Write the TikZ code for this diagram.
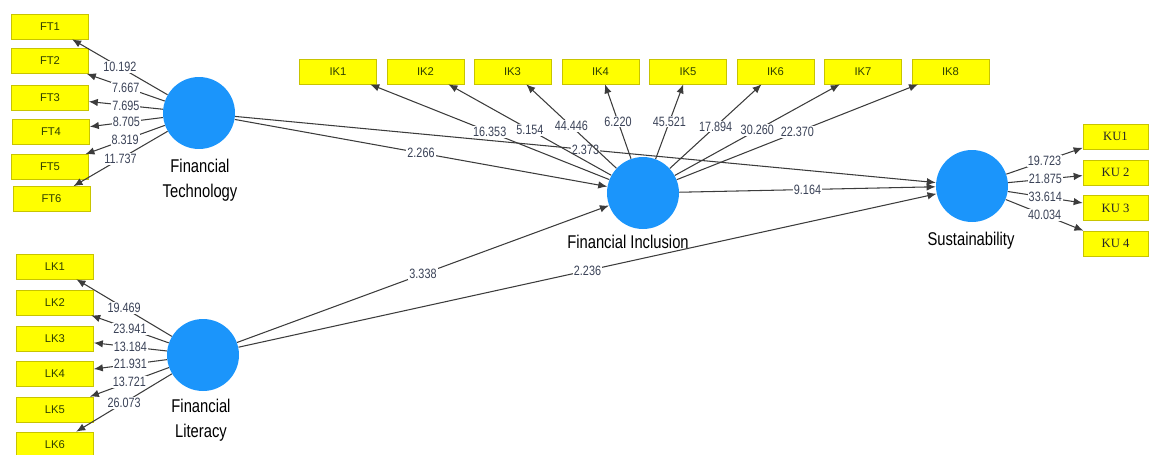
\documentclass[tikz,border=0pt]{standalone}
\usepackage{fontspec}
\setmainfont{Liberation Sans}
\newfontfamily\cndfont[FakeStretch=0.8]{Liberation Sans}
\newfontfamily\kufont{Liberation Serif}
\usepackage{tikz}
\usepackage{xcolor}
\usetikzlibrary{arrows.meta}
\definecolor{boxyellow}{HTML}{FFFF00}
\definecolor{boxedge}{HTML}{C8C400}
\definecolor{itemink}{HTML}{2F4000}
\definecolor{latentblue}{HTML}{1B95FB}
\definecolor{arrowgray}{HTML}{3C3C3C}
\definecolor{numink}{HTML}{3B4358}
\tikzset{
  itembox/.style={draw=boxedge, fill=boxyellow, line width=0.4pt,
                  minimum width=1.54cm, minimum height=0.5cm, inner sep=1pt,
                  font=\fontsize{6.4}{7}\selectfont, text=itemink},
  kubox/.style={itembox, minimum width=1.3cm,
                font=\kufont\fontsize{7.2}{8}\selectfont, text=black!85},
  latent/.style={circle, fill=latentblue, minimum size=1.44cm, inner sep=0pt},
  latname/.style={align=center, inner sep=0pt,
                  font=\cndfont\fontsize{10.5}{14.2}\selectfont, text=black},
  patharr/.style={-{Latex[length=1.8mm,width=1.5mm]}, line width=0.6pt, color=arrowgray},
  pathnum/.style={midway, fill=white, inner sep=0.6pt,
                  font=\cndfont\fontsize{7.7}{8}\selectfont, text=numink}
}
\begin{document}
\begin{tikzpicture}[x=0.02cm,y=-0.02cm]
  \useasboundingbox (0,0) rectangle (1150,454);

  % Latent variables
  \node[latent] (ft) at (199,113) {};
  \node[latent] (lk) at (203,355) {};
  \node[latent] (fi) at (643,193) {};
  \node[latent] (su) at (972,186) {};
  \node[latname] (ftname) at (200,180) {Financial\\Technology};
  \node[latname] (lkname) at (201,420) {Financial\\Literacy};
  \node[latname,anchor=base] (finame) at (628,248) {Financial Inclusion};
  \node[latname,anchor=base] (suname) at (971,245) {Sustainability};

  % Financial Technology indicators
  \node[itembox] (ft1) at (50,26.5) {FT1};
  \node[itembox] (ft2) at (50,61) {FT2};
  \node[itembox] (ft3) at (50,97.5) {FT3};
  \node[itembox] (ft4) at (51,131.5) {FT4};
  \node[itembox] (ft5) at (50,167) {FT5};
  \node[itembox] (ft6) at (51.5,199) {FT6};

  % Financial Literacy indicators
  \node[itembox] (lk1) at (55,266.5) {LK1};
  \node[itembox] (lk2) at (55,302.5) {LK2};
  \node[itembox] (lk3) at (55,338.5) {LK3};
  \node[itembox] (lk4) at (55,374) {LK4};
  \node[itembox] (lk5) at (55,409.5) {LK5};
  \node[itembox] (lk6) at (55,444.5) {LK6};

  % Financial Inclusion indicators
  \node[itembox] (ik1) at (338,71.5) {IK1};
  \node[itembox] (ik2) at (425.5,71.5) {IK2};
  \node[itembox] (ik3) at (512.5,71.5) {IK3};
  \node[itembox] (ik4) at (600.5,71.5) {IK4};
  \node[itembox] (ik5) at (688,71.5) {IK5};
  \node[itembox] (ik6) at (775.5,71.5) {IK6};
  \node[itembox] (ik7) at (863,71.5) {IK7};
  \node[itembox] (ik8) at (950.5,71.5) {IK8};

  % Sustainability indicators
  \node[kubox] (ku1) at (1115.5,136.5) {KU1};
  \node[kubox] (ku2) at (1115.5,172.5) {KU 2};
  \node[kubox] (ku3) at (1115.5,208) {\raisebox{-0.1cm}{KU 3}};
  \node[kubox] (ku4) at (1115.5,243.5) {KU 4};

  % Outer loadings
  \draw[patharr] (ft) -- node[pathnum] {10.192} (ft1);
  \draw[patharr] (ft) -- node[pathnum] {7.667} (ft2);
  \draw[patharr] (ft) -- node[pathnum] {7.695} (ft3);
  \draw[patharr] (ft) -- node[pathnum] {8.705} (ft4);
  \draw[patharr] (ft) -- node[pathnum] {8.319} (ft5);
  \draw[patharr] (ft) -- node[pathnum] {11.737} (ft6);

  \draw[patharr] (lk) -- node[pathnum] {19.469} (lk1);
  \draw[patharr] (lk) -- node[pathnum] {23.941} (lk2);
  \draw[patharr] (lk) -- node[pathnum] {13.184} (lk3);
  \draw[patharr] (lk) -- node[pathnum] {21.931} (lk4);
  \draw[patharr] (lk) -- node[pathnum] {13.721} (lk5);
  \draw[patharr] (lk) -- node[pathnum] {26.073} (lk6);

  \draw[patharr] (su) -- node[pathnum] {19.723} (ku1);
  \draw[patharr] (su) -- node[pathnum] {21.875} (ku2);
  \draw[patharr] (su) -- node[pathnum] {33.614} (ku3);
  \draw[patharr] (su) -- node[pathnum] {40.034} (ku4);

  % Inner paths
  \draw[patharr] (ft) -- node[pathnum] {2.266} (fi);
  \draw[patharr] (lk) -- node[pathnum] {3.338} (fi);
  \draw[patharr] (lk) -- node[pathnum] {2.236} (su);
  \draw[patharr] (fi) -- node[pathnum] {9.164} (su);
  \draw[patharr] (ft) -- node[pathnum] {2.373} (su);

  \draw[patharr] (fi) -- node[pathnum] {16.353} (ik1);
  \draw[patharr] (fi) -- node[pathnum] {5.154} (ik2);
  \draw[patharr] (fi) -- node[pathnum] {44.446} (ik3);
  \draw[patharr] (fi) -- node[pathnum] {6.220} (ik4);
  \draw[patharr] (fi) -- node[pathnum] {45.521} (ik5);
  \draw[patharr] (fi) -- node[pathnum] {17.894} (ik6);
  \draw[patharr] (fi) -- node[pathnum] {30.260} (ik7);
  \draw[patharr] (fi) -- node[pathnum] {22.370} (ik8);
\end{tikzpicture}
\end{document}
